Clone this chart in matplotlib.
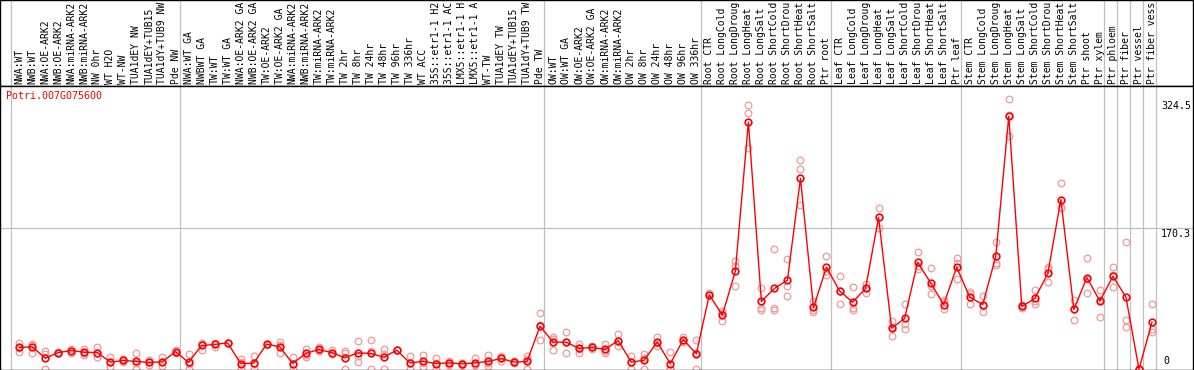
import numpy as np
import matplotlib
matplotlib.use('Agg')
import matplotlib.pyplot as plt

# sample names along the top, in plot order (long ones cut as in the source chart)
samples = [
    'NWA:WT', 'NWB:WT', 'NWA:OE-ARK2', 'NWB:OE-ARK2', 'NWA:miRNA-ARK2', 'NWB:miRNA-ARK2',
    'NW 0hr', 'WT H2O', 'WT-NW', 'TUA1dEY NW', 'TUA1dEY+TUB15', 'TUA1dY+TUB9 NW', 'Pde NW',
    'NWA:WT GA', 'NWBWT GA', 'TW:WT', 'TW:WT GA', 'NWA:OE-ARK2 GA', 'NWB:OE-ARK2 GA',
    'TW:OE-ARK2', 'TW:OE-ARK2 GA', 'NWA:miRNA-ARK2', 'NWB:miRNA-ARK2', 'TW:miRNA-ARK2',
    'TW:miRNA-ARK2', 'TW 2hr', 'TW 8hr', 'TW 24hr', 'TW 48hr', 'TW 96hr', 'TW 336hr',
    'WT ACC', '35S::etr1-1 H2', '35S::etr1-1 AC', 'LMX5::etr1-1 H', 'LMX5::etr1-1 A',
    'WT-TW', 'TUA1dEY TW', 'TUA1dEY+TUB15', 'TUA1dY+TUB9 TW', 'Pde TW',
    'OW:WT', 'OW:WT GA', 'OW:OE-ARK2', 'OW:OE-ARK2 GA', 'OW:miRNA-ARK2', 'OW:miRNA-ARK2',
    'OW 2hr', 'OW 8hr', 'OW 24hr', 'OW 48hr', 'OW 96hr', 'OW 336hr',
    'Root CTR', 'Root LongCold', 'Root LongDroug', 'Root LongHeat', 'Root LongSalt',
    'Root ShortCold', 'Root ShortDrou', 'Root ShortHeat', 'Root ShortSalt', 'Ptr root',
    'Leaf CTR', 'Leaf LongCold', 'Leaf LongDroug', 'Leaf LongHeat', 'Leaf LongSalt',
    'Leaf ShortCold', 'Leaf ShortDrou', 'Leaf ShortHeat', 'Leaf ShortSalt', 'Ptr leaf',
    'Stem CTR', 'Stem LongCold', 'Stem LongDroug', 'Stem LongHeat', 'Stem LongSalt',
    'Stem ShortCold', 'Stem ShortDrou', 'Stem ShortHeat', 'Stem ShortSalt', 'Ptr shoot',
    'Ptr xylem', 'Ptr phloem', 'Ptr fiber', 'Ptr vessel', 'Ptr fiber vess',
]

# number of samples in each block between the grey separators
group_sizes = [13, 28, 12, 10, 10, 11, 1, 1, 1, 1]

# mean expression per sample
means = [
    26.2, 27.0, 13.3, 20.1, 22.5, 20.5, 20.1, 8.5, 10.5, 9.3, 8.1, 8.9, 21.3,
    8.1, 28.6, 29.8, 31.8, 6.8, 7.2, 30.2, 27.0, 6.8, 19.0, 23.8, 20.1, 13.7,
    19.7, 19.0, 14.5, 22.9, 7.6, 9.3, 6.8, 7.6, 6.4, 7.6, 9.3, 12.9, 8.5, 9.3, 51.9,
    32.6, 32.6, 25.0, 26.2, 23.8, 34.6, 8.5, 10.9, 33.0, 6.4, 35.8, 18.5,
    89.8, 65.2, 118.4, 298.3, 81.8, 97.5, 107.5, 230.3, 74.5, 123.2,
    94.6, 80.9, 97.5, 183.2, 49.5, 61.2, 129.2, 104.2, 78.1, 123.2,
    87.0, 78.1, 136.1, 305.6, 75.7, 85.4, 115.6, 204.9, 72.1, 110.7,
    82.1, 112.3, 87.0, 0.0, 56.8,
]

# individual replicates per sample
reps = [
    [31.8, 20.9, 26.0], [31.0, 19.7, 29.0], [22.1, 0.0, 18.0], [20.0, 21.0, 19.5],
    [24.9, 20.1, 22.5], [24.9, 19.0, 17.7], [26.9, 14.5, 19.0], [14.1, 2.9, 8.5],
    [12.5, 8.5, 10.5], [20.1, 0.0, 8.0], [10.9, 4.9, 8.1], [14.1, 3.7, 8.9],
    [22.9, 19.7, 21.3],
    [18.1, 0.0, 6.5], [32.2, 23.0, 30.0], [31.0, 27.0, 31.5], [32.0, 31.8, 31.5],
    [12.0, 0.0, 8.5], [15.7, 0.0, 6.0], [31.0, 30.0, 29.6], [33.4, 19.0, 28.6],
    [14.5, 0.0, 6.0], [24.9, 14.5, 17.6], [26.2, 22.1, 23.1], [22.9, 18.1, 19.3],
    [22.1, 0.0, 19.0], [34.2, 8.9, 16.0], [35.4, 0.0, 21.6], [24.9, 0.0, 18.6],
    [23.0, 22.9, 22.8], [15.7, 0.0, 7.1], [17.7, 7.6, 2.6], [13.3, 0.0, 7.1],
    [10.1, 7.6, 5.1], [8.0, 6.0, 5.2], [12.9, 5.0, 4.9], [16.9, 7.6, 3.4],
    [15.7, 10.1, 12.9], [8.5, 6.9, 10.1], [15.7, 0.0, 12.2], [67.6, 35.0, 53.0],
    [39.0, 22.9, 36.0], [45.0, 19.7, 33.0], [31.0, 24.9, 19.0], [27.8, 26.2, 24.6],
    [29.8, 19.7, 22.0], [41.9, 27.8, 34.0], [16.5, 0.5, 8.5], [18.9, 14.0, 0.0],
    [39.1, 31.8, 28.0], [20.5, 0.0, 0.0], [39.0, 35.8, 33.0], [35.8, 0.0, 19.7],
    [91.4, 89.0, 89.0], [67.6, 57.6, 70.0], [130.4, 124.4, 100.2], [318.8, 309.5, 267.3],
    [98.0, 74.1, 71.3], [145.7, 74.1, 71.3], [133.6, 100.2, 87.8], [252.4, 242.3, 198.0],
    [82.1, 71.3, 68.8], [136.1, 114.3, 118.4],
    [113.1, 79.3, 94.6], [99.0, 74.1, 71.3], [103.0, 92.2, 97.5], [194.4, 170.7, 183.2],
    [57.6, 40.3, 50.5], [79.3, 49.1, 55.1], [142.1, 124.4, 121.2], [121.6, 90.2, 100.2],
    [84.1, 72.1, 80.9], [134.4, 109.0, 128.4],
    [93.4, 79.3, 90.2], [88.2, 69.2, 76.1], [153.4, 126.4, 128.4], [326.9, 282.2, 307.0],
    [74.1, 75.7, 77.0], [95.4, 78.5, 82.1], [124.0, 105.0, 121.2], [225.0, 194.8, 196.0],
    [84.1, 59.9, 72.7], [134.8, 91.4, 108.5],
    [95.4, 62.8, 84.1], [123.2, 99.0, 114.3], [153.4, 59.9, 51.1], [0.0, 0.0, 0.0],
    [78.5, 44.3, 48.0],
]

gene_id = 'Potri.007G075600'
y_ticks = [0, 170.3, 324.5]

MONO = 'DejaVu Sans Mono'
RED = '#ff0000'
PINK = '#ee9a9a'
GREY = '#c0c0c0'

W, H = 1194, 370
lab_h = 86
fig = plt.figure(figsize=(W / 100, H / 100), dpi=100)
ax_lab = fig.add_axes([0, 1 - lab_h / H, 1193 / W, lab_h / H])
ax = fig.add_axes([0, 0, 1193 / W, 1 - lab_h / H], sharex=ax_lab)

x = np.arange(len(samples))
ax.set_xlim(-1.48, 90.15)
ax.set_ylim(-1.0, 342.0)
ax_lab.set_ylim(0, 1)

# grey block separators in both panels
bounds = np.cumsum([0] + group_sizes) - 0.66
for b in bounds:
    ax.axvline(b, color=GREY, lw=0.9, zorder=1)
    ax_lab.axvline(b, color=GREY, lw=0.9, zorder=1)

ax.axhline(y_ticks[1], color=GREY, lw=0.9, zorder=1)

# sample labels
for i, name in enumerate(samples):
    ax_lab.text(i, 0.025, name, rotation=90, ha='center', va='bottom',
                fontsize=7, family=MONO, color='black')

# replicates
for i, r in enumerate(reps):
    ax.plot([i] * len(r), r, 'o', mfc='none', mec=PINK, ms=4.8, mew=0.9, zorder=2)

# mean line
ax.plot(x, means, '-', color=RED, lw=1.0, zorder=3)
ax.plot(x, means, 'o', mfc='none', mec=RED, ms=4.8, mew=1.2, zorder=4)

ax.annotate(gene_id, xy=(0, 1), xycoords='axes fraction', xytext=(6, -5),
            textcoords='offset pixels', ha='left', va='top', color=RED,
            fontsize=7.2, family=MONO)

for v in y_ticks:
    if v > 0:
        ax.annotate(f'{v:g}', xy=(1, v), xycoords=('axes fraction', 'data'),
                    xytext=(-2, -1), textcoords='offset pixels', ha='right',
                    va='top', fontsize=7.2, family=MONO)
    else:
        ax.annotate(f'{v:g}', xy=(1, v), xycoords=('axes fraction', 'data'),
                    xytext=(-24, 3), textcoords='offset pixels', ha='right',
                    va='bottom', fontsize=7.2, family=MONO)

for a in (ax, ax_lab):
    a.set_xticks([])
    a.set_yticks([])
    for s in a.spines.values():
        s.set_color('black')
        s.set_linewidth(1.0)

fig.savefig('out.png', dpi=100)
